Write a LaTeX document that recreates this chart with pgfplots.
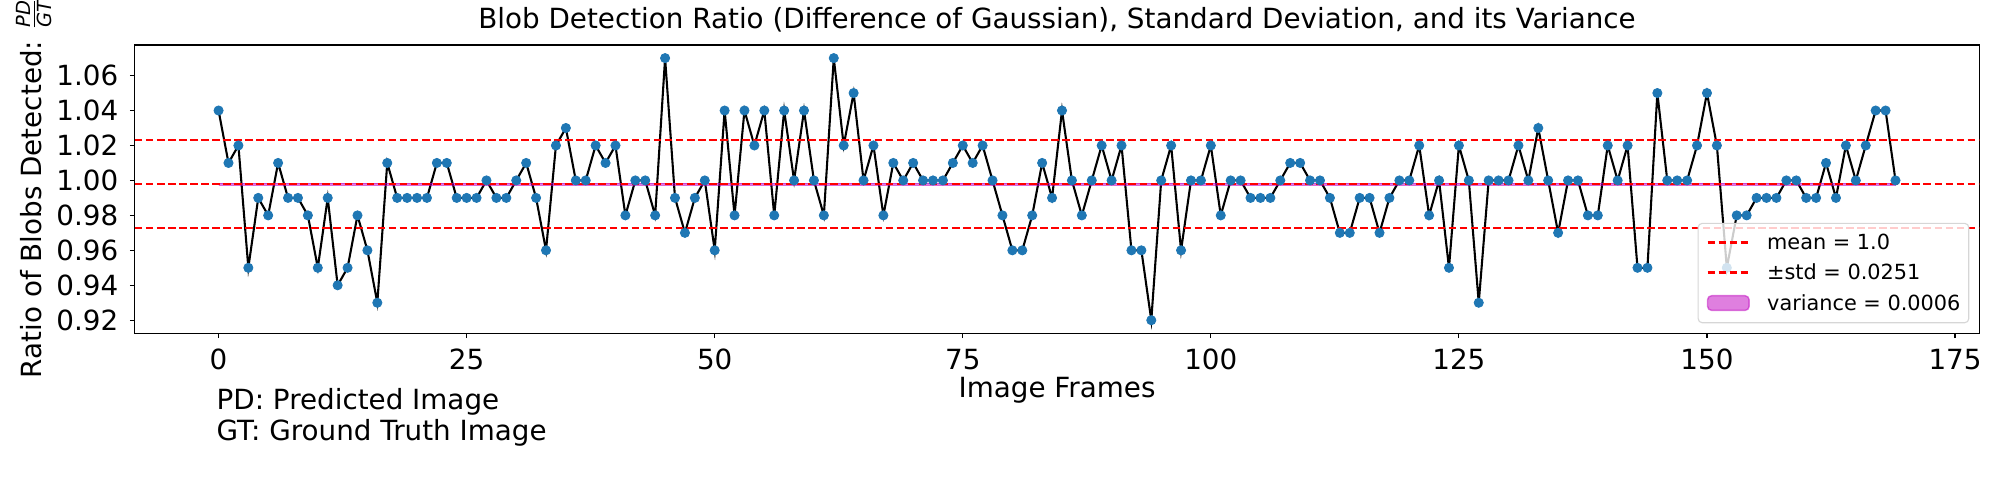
\documentclass[border=0pt]{standalone}
\usepackage{fontspec}
\setmainfont{DejaVu Sans}
\usepackage{amsmath}
\usepackage{pgfplots}
\pgfplotsset{compat=1.18}
\usepackage{pgfplotstable}
\definecolor{mplblue}{RGB}{31,119,180}
\definecolor{mplm}{RGB}{191,0,191}
\definecolor{legedge}{RGB}{214,214,214}
\pgfplotsset{
  lineleg/.style={legend image code/.code={\draw[##1] (0bp,0bp) -- (30bp,0bp);}},
  patchleg/.style={legend image code/.code={\draw[##1] (0bp,-5.3bp) rectangle (30bp,5.3bp);}},
}
\pgfplotstableread{
x y
0 1.04
1 1.01
2 1.02
3 0.95
4 0.99
5 0.98
6 1.01
7 0.99
8 0.99
9 0.98
10 0.95
11 0.99
12 0.94
13 0.95
14 0.98
15 0.96
16 0.93
17 1.01
18 0.99
19 0.99
20 0.99
21 0.99
22 1.01
23 1.01
24 0.99
25 0.99
26 0.99
27 1.00
28 0.99
29 0.99
30 1.00
31 1.01
32 0.99
33 0.96
34 1.02
35 1.03
36 1.00
37 1.00
38 1.02
39 1.01
40 1.02
41 0.98
42 1.00
43 1.00
44 0.98
45 1.07
46 0.99
47 0.97
48 0.99
49 1.00
50 0.96
51 1.04
52 0.98
53 1.04
54 1.02
55 1.04
56 0.98
57 1.04
58 1.00
59 1.04
60 1.00
61 0.98
62 1.07
63 1.02
64 1.05
65 1.00
66 1.02
67 0.98
68 1.01
69 1.00
70 1.01
71 1.00
72 1.00
73 1.00
74 1.01
75 1.02
76 1.01
77 1.02
78 1.00
79 0.98
80 0.96
81 0.96
82 0.98
83 1.01
84 0.99
85 1.04
86 1.00
87 0.98
88 1.00
89 1.02
90 1.00
91 1.02
92 0.96
93 0.96
94 0.92
95 1.00
96 1.02
97 0.96
98 1.00
99 1.00
100 1.02
101 0.98
102 1.00
103 1.00
104 0.99
105 0.99
106 0.99
107 1.00
108 1.01
109 1.01
110 1.00
111 1.00
112 0.99
113 0.97
114 0.97
115 0.99
116 0.99
117 0.97
118 0.99
119 1.00
120 1.00
121 1.02
122 0.98
123 1.00
124 0.95
125 1.02
126 1.00
127 0.93
128 1.00
129 1.00
130 1.00
131 1.02
132 1.00
133 1.03
134 1.00
135 0.97
136 1.00
137 1.00
138 0.98
139 0.98
140 1.02
141 1.00
142 1.02
143 0.95
144 0.95
145 1.05
146 1.00
147 1.00
148 1.00
149 1.02
150 1.05
151 1.02
152 0.95
153 0.98
154 0.98
155 0.99
156 0.99
157 0.99
158 1.00
159 1.00
160 0.99
161 0.99
162 1.01
163 0.99
164 1.02
165 1.00
166 1.02
167 1.04
168 1.04
169 1.00
}\blobdata
\begin{document}
\begin{tikzpicture}
\useasboundingbox (0,0) rectangle (1440bp,360bp);
\begin{axis}[
  at={(97bp,120bp)}, anchor=south west,
  scale only axis, width=1328.1bp, height=207.6bp,
  xmin=-8.45, xmax=177.45, ymin=0.9125, ymax=1.0775,
  xtick={0,25,50,75,100,125,150,175},
  ytick={0.92,0.94,0.96,0.98,1.00,1.02,1.04,1.06},
  /pgf/number format/assume math mode=true,
  scaled ticks=false,
  xtick pos=bottom, ytick pos=left,
  tick align=outside, major tick length=3.5bp,
  tick style={line width=0.8bp, black},
  axis line style={line width=0.8bp},
  minor tick num=0,
  every tick label/.append style={font=\fontsize{20bp}{24bp}\selectfont},
  xticklabel style={anchor=base, yshift=-22.3bp},
  yticklabel style={anchor=east, inner sep=0pt, xshift=-8.2bp,
    /pgf/number format/fixed, /pgf/number format/fixed zerofill, /pgf/number format/precision=2},
  title={Blob Detection Ratio (Difference of Gaussian), Standard Deviation, and its Variance},
  title style={font=\fontsize{20bp}{24bp}\selectfont, at={(0.5,1)}, anchor=base, yshift=6bp, inner sep=0pt},
  xlabel={Image Frames},
  xlabel style={font=\fontsize{20bp}{24bp}\selectfont, at={(axis description cs:0.5,0)}, anchor=base, yshift=-46.3bp, inner sep=0pt},
  legend cell align=left,
  legend style={at={(1,0)}, anchor=south east, xshift=-7.2bp, yshift=7.2bp,
    draw=legedge, line width=0.8bp, rounded corners=3bp,
    fill=white, fill opacity=0.8, text opacity=1,
    inner xsep=6bp, inner ysep=8.4bp, row sep=10.8bp,
    font=\fontsize{15bp}{18bp}\selectfont,
    nodes={inner sep=0pt, text height=10.8bp, text depth=0pt},
    /tikz/every odd column/.append style={column sep=12.2bp}},
]
\addplot[mplblue, only marks, mark=*, mark size=3.3bp, mark options={draw=mplblue, fill=mplblue, line width=0.6bp}, forget plot] table[x=x,y=y]{\blobdata};
\addplot[black, line width=1.5bp, no marks, forget plot] table[x=x,y=y]{\blobdata};
\addplot[fill=mplm, fill opacity=0.5, draw=mplm, draw opacity=0.5, line width=1bp, no marks, forget plot] coordinates {(0,0.9972) (169,0.9972) (169,0.9984) (0,0.9984) (0,0.9972)};
\addplot[red, line width=1.5bp, dash pattern=on 5.55bp off 2.4bp, no marks, forget plot] coordinates {(-8.45,0.9978) (177.45,0.9978)};
\addplot[red, line width=1.5bp, dash pattern=on 5.55bp off 2.4bp, no marks, forget plot] coordinates {(-8.45,1.0229) (177.45,1.0229)};
\addplot[red, line width=1.5bp, dash pattern=on 5.55bp off 2.4bp, no marks, forget plot] coordinates {(-8.45,0.9727) (177.45,0.9727)};
\addlegendimage{lineleg, red, line width=1.5bp, dash pattern=on 5.55bp off 2.4bp}
\addlegendentry{mean = 1.0}
\addlegendimage{lineleg, red, line width=1.5bp, dash pattern=on 5.55bp off 2.4bp}
\addlegendentry{±std = 0.0251}
\addlegendimage{patchleg, fill=mplm, fill opacity=0.5, draw=mplm, draw opacity=0.5, line width=1bp}
\addlegendentry{variance = 0.0006}
\end{axis}
\node[rotate=90, anchor=base, inner sep=0pt, font=\fontsize{20bp}{24bp}\selectfont] at (30bp,224.3bp) {Ratio of Blobs Detected: $\frac{\text{\itshape PD}}{\text{\itshape GT}}$};
\node[anchor=base west, inner sep=0pt, font=\fontsize{20bp}{24bp}\selectfont] at (155.8bp,65.5bp) {PD: Predicted Image};
\node[anchor=base west, inner sep=0pt, font=\fontsize{20bp}{24bp}\selectfont] at (155.8bp,42.5bp) {GT: Ground Truth Image};
\end{tikzpicture}
\end{document}
